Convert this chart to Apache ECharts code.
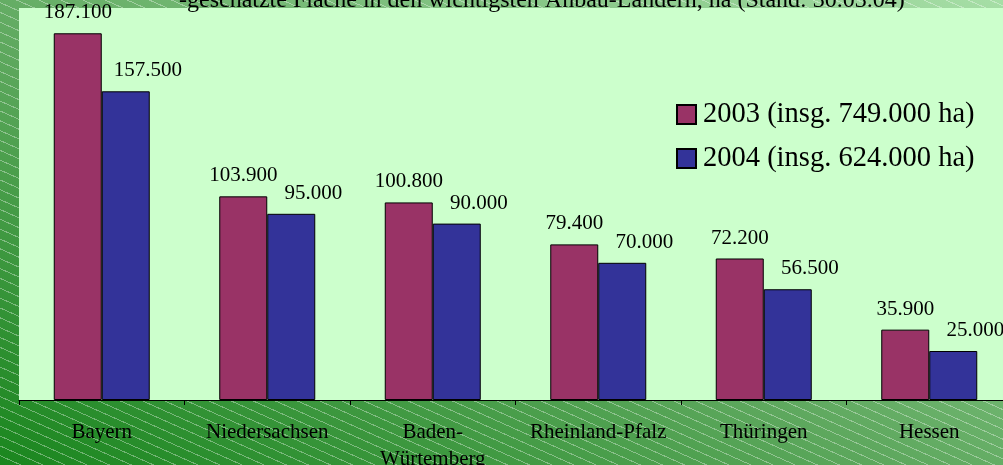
<!DOCTYPE html>
<html>
<head>
<meta charset="utf-8">
<script src="https://cdn.jsdelivr.net/npm/echarts@6/dist/echarts.min.js"></script>
<style>
  html, body { margin: 0; padding: 0; }
  body {
    width: 1003px; height: 465px; overflow: hidden;
    background:
      repeating-linear-gradient(24deg, rgba(255,255,255,0) 0px, rgba(255,255,255,0) 8px, rgba(255,255,255,0.35) 8px, rgba(255,255,255,0.35) 9px),
      linear-gradient(to top right, #1a861e 0%, #5ea85e 45%, #a6dea6 100%);
  }
  #main { width: 1003px; height: 465px; }
</style>
</head>
<body>
<div id="main"></div>
<script>
var laender = ['Bayern', 'Niedersachsen', 'Baden-\nWürtemberg', 'Rheinland-Pfalz', 'Thüringen', 'Hessen'];
var flaeche2003 = [187.1, 103.9, 100.8, 79.4, 72.2, 35.9];
var flaeche2004 = [157.5, 95.0, 90.0, 70.0, 56.5, 25.0];
var name2003 = '2003 (insg. 749.000 ha)';
var name2004 = '2004 (insg. 624.000 ha)';

// Zahlen im deutschen Format, z.B. 187.100
function fmt(p) {
  return (p.value * 1000).toFixed(0).replace(/\B(?=(\d{3})+(?!\d))/g, '.');
}

var myChart = echarts.init(document.getElementById('main'), null, {renderer: 'canvas'});
var option = {
  backgroundColor: 'transparent',
  textStyle: { fontFamily: 'Liberation Serif' },
  title: {
    text: '-geschätzte Fläche in den wichtigsten Anbau-Ländern, ha (Stand: 30.03.04)',
    left: 179,
    top: -11,
    padding: 0,
    textStyle: {
      fontFamily: 'Liberation Serif',
      fontWeight: 'normal',
      fontSize: 24,
      color: '#000'
    }
  },
  legend: {
    orient: 'vertical',
    left: 671,
    top: 95,
    itemWidth: 19,
    itemHeight: 19,
    itemGap: 15,
    icon: 'rect',
    textStyle: {
      fontFamily: 'Liberation Serif',
      fontSize: 28.5,
      color: '#000',
      padding: [0, 0, 0, 2]
    },
    data: [name2003, name2004]
  },
  grid: {
    show: true,
    left: 19,
    top: 8,
    width: 993,
    height: 392,
    backgroundColor: '#ccffcc',
    borderWidth: 0,
    outerBoundsMode: 'none',
    containLabel: false
  },
  xAxis: {
    type: 'category',
    data: laender,
    axisLine: { lineStyle: { color: '#000', width: 1 } },
    axisTick: { show: true, length: 5, lineStyle: { color: '#000' } },
    axisLabel: {
      margin: 19,
      fontFamily: 'Liberation Serif',
      fontSize: 21,
      lineHeight: 27,
      color: '#000',
      interval: 0
    }
  },
  yAxis: {
    type: 'value',
    min: 0,
    max: 200,
    axisLine: { show: false },
    axisTick: { show: false },
    axisLabel: { show: false },
    splitLine: { show: false }
  },
  series: [
    {
      name: name2003,
      type: 'bar',
      barWidth: 48,
      barGap: '0%',
      data: flaeche2003,
      itemStyle: { color: '#993366', borderColor: '#000', borderWidth: 1 },
      label: {
        show: true,
        position: 'top',
        distance: 10,
        fontFamily: 'Liberation Serif',
        fontSize: 21,
        color: '#000',
        formatter: fmt
      }
    },
    {
      name: name2004,
      type: 'bar',
      barWidth: 48,
      barGap: '0%',
      data: flaeche2004,
      itemStyle: { color: '#333399', borderColor: '#000', borderWidth: 1 },
      label: {
        show: true,
        position: 'top',
        distance: 10,
        offset: [22, 0],
        fontFamily: 'Liberation Serif',
        fontSize: 21,
        color: '#000',
        formatter: fmt
      }
    }
  ]
};
myChart.setOption(option);
</script>
</body>
</html>
